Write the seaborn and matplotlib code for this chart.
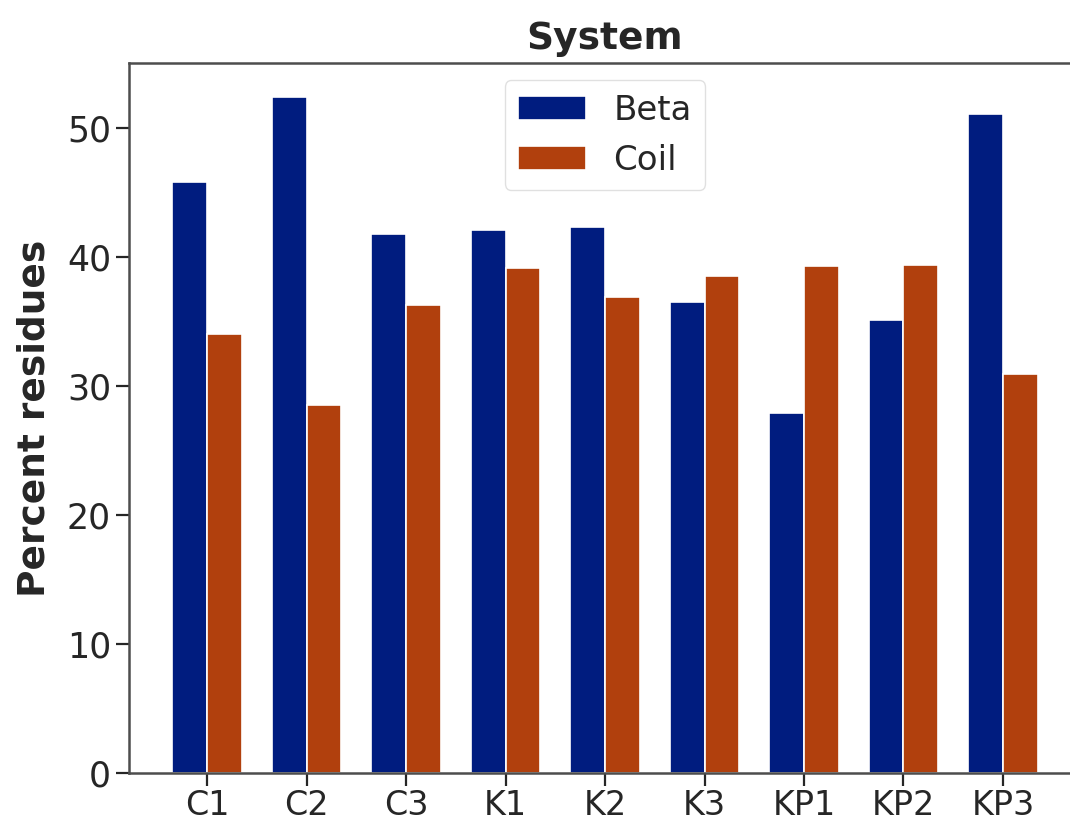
import matplotlib
matplotlib.use("Agg")
import matplotlib.pyplot as plt
import seaborn as sns
import pandas as pd

systems = ["C1", "C2", "C3", "K1", "K2", "K3", "KP1", "KP2", "KP3"]
beta = [45.8, 52.4, 41.8, 42.1, 42.3, 36.5, 27.9, 35.1, 51.1]
coil = [34.0, 28.5, 36.3, 39.1, 36.9, 38.5, 39.3, 39.4, 30.9]
structures = ["Beta", "Coil"]

df = pd.DataFrame({
    "System": systems * 2,
    "Structure": ["Beta"] * len(systems) + ["Coil"] * len(systems),
    "Percent residues": beta + coil,
})

sns.set_theme(style="ticks", palette="dark")
plt.rcParams["font.family"] = ["DejaVu Sans"]

fig = plt.figure(figsize=(10.7, 8.23), dpi=100)
ax = fig.add_axes([0.1206, 0.0608, 0.8897, 0.8626])

sns.barplot(data=df, x="System", y="Percent residues", hue="Structure",
            hue_order=structures, order=systems, width=0.7, ax=ax,
            palette=sns.color_palette("dark", 2), saturation=1,
            edgecolor="white", linewidth=1.2)

# matplotlib-style margins around the bar groups
ax.set_xlim(-0.785, 8.785)

ax.set_title("System", fontsize=27, fontweight="bold", color="0.15", pad=10)
ax.set_xlabel("")
ax.set_ylabel("Percent residues", fontsize=27, fontweight="bold", color="0.15", labelpad=10)
ax.set_yticks([0, 10, 20, 30, 40, 50])
ax.tick_params(axis="both", labelsize=25, colors="0.15", length=9.5, width=1.6)
ax.tick_params(axis="x", labelsize=24, pad=2)
for sp in ax.spines.values():
    sp.set_linewidth(1.8)
    sp.set_color("0.3")

leg = ax.legend(loc="upper center", fontsize=24.5, title=None, frameon=True,
                borderaxespad=0.5)
leg.get_frame().set_edgecolor("0.85")

fig.savefig("out.png", dpi=100)
